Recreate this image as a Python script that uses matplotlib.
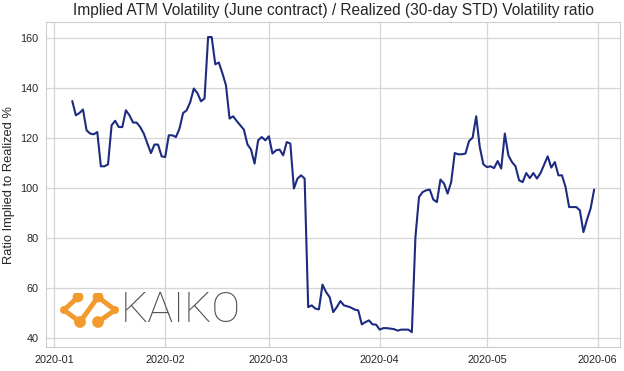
import numpy as np
import pandas as pd
import matplotlib
matplotlib.use("Agg")
import matplotlib.pyplot as plt
import matplotlib.dates as mdates
import seaborn as sns

# daily ratio, starting 2020-01-06
START = "2020-01-06"
ratio = [
    134.9, 129.2, 130.1, 131.5, 123.2, 121.9, 121.6, 122.5, 108.8, 108.8,
    109.6, 125.2, 127.0, 124.5, 124.5, 131.2, 129.2, 126.3, 126.3, 124.5,
    121.9, 118.0, 114.1, 117.5, 117.5, 112.8, 112.5, 121.2, 121.2, 120.5,
    123.9, 130.1, 131.2, 134.5, 139.9, 138.1, 134.8, 135.9, 160.5, 160.5,
    149.6, 150.3, 146.0, 141.2, 127.9, 128.8, 126.9, 125.2, 123.5, 117.6,
    115.5, 109.9, 119.2, 120.5, 119.2, 120.8, 113.9, 115.2, 115.5, 113.2,
    118.5, 117.9, 99.9, 103.9, 105.2, 103.9, 52.5, 53.2, 51.9, 51.6,
    61.5, 58.5, 56.5, 50.5, 52.5, 54.9, 53.2, 52.8, 52.3, 51.5,
    51.2, 45.6, 46.5, 47.2, 45.6, 45.5, 43.5, 44.1, 44.1, 43.9,
    43.7, 43.1, 43.5, 43.5, 43.5, 42.5, 80.5, 96.5, 98.5, 99.2,
    99.5, 95.5, 94.5, 103.5, 101.9, 97.9, 102.5, 114.1, 113.6, 113.6,
    113.9, 118.9, 120.3, 128.8, 116.5, 109.6, 108.5, 108.8, 108.1, 110.9,
    107.9, 121.9, 113.2, 110.5, 108.8, 103.2, 102.5, 106.1, 104.1, 106.1,
    103.9, 106.1, 109.5, 112.8, 108.3, 110.5, 105.2, 105.2, 100.5, 92.5,
    92.5, 92.5, 91.2, 82.5, 87.5, 91.9, 99.5,
]
dates = pd.date_range(START, periods=len(ratio), freq="D")

TITLE = "Implied ATM Volatility (June contract) / Realized (30-day STD) Volatility ratio"
YLABEL = "Ratio Implied to Realized %"
LINE = "#1d2b80"
ORANGE = "#f29a2e"

sns.set_style("whitegrid")
plt.rcParams["font.family"] = ["Liberation Sans", "DejaVu Sans"]

fig = plt.figure(figsize=(6.24, 3.71), dpi=100)
ax = fig.add_axes([0.074, 0.065, 0.92, 0.875])
ax.plot(dates, ratio, color=LINE, lw=1.5)

ax.set_title(TITLE, fontsize=11.2, pad=5)
ax.set_ylabel(YLABEL, fontsize=9.3)
ax.xaxis.set_major_locator(mdates.MonthLocator())
ax.xaxis.set_major_formatter(mdates.DateFormatter("%Y-%m"))
ax.tick_params(labelsize=7.8, pad=2)
for s in ax.spines.values():
    s.set_color("#cccccc")
ax.grid(color="#d5d5d5", lw=0.9)

# logo (its own little axes, 1 unit = 1 pixel)
lax = fig.add_axes([58 / 624, 1 - 328 / 371, 200 / 624, 35 / 371])
lax.set_xlim(0, 200)
lax.set_ylim(35, 0)
lax.axis("off")
px = [20, 6, 22, 40, 57, 40]
py = [4, 17, 29, 4, 17, 29]
lax.plot(px, py, color=ORANGE, lw=3.5, solid_capstyle="round", solid_joinstyle="round")
lax.scatter([20, 22, 40, 40, 6, 57], [4, 29, 4, 29, 17, 17],
            s=[45, 55, 45, 55, 22, 22], color=ORANGE, zorder=3)
lax.text(63, 18, "KAIKO", fontsize=31, color="#505050", va="center",
         fontfamily="Roboto", fontweight="light")

fig.savefig("out.png", dpi=100)
